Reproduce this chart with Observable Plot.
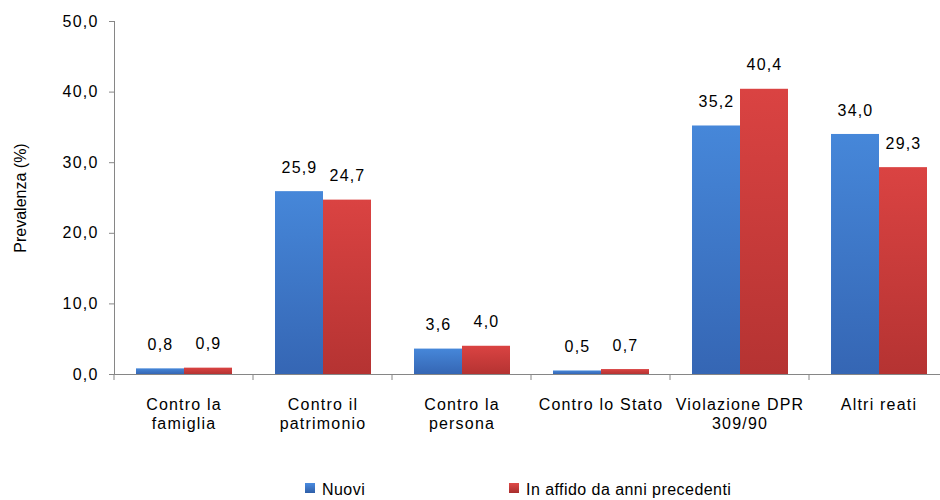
<!DOCTYPE html>
<html>
<head>
<meta charset="utf-8">
<script src="https://cdn.jsdelivr.net/npm/d3@7"></script>
<script src="https://cdn.jsdelivr.net/npm/@observablehq/plot@0.6"></script>
<style>
  body { margin: 0; background: #fff; font-family: "Liberation Sans", Arial, sans-serif; }
  #legend { position: relative; width: 940px; height: 20px; font-size: 16px; line-height: 20px; letter-spacing: 0.45px; color: #000; }
  .sw { position: absolute; top: 3px; width: 10px; height: 10px; }
  .lt { position: absolute; top: 0; white-space: nowrap; }
</style>
</head>
<body>
<div id="chart"></div>
<div id="legend"></div>
<script>
const categories = ["Contro la\nfamiglia", "Contro il\npatrimonio", "Contro la\npersona", "Contro lo Stato", "Violazione DPR\n309/90", "Altri reati"];
const nuovi = [0.8, 25.9, 3.6, 0.5, 35.2, 34.0];
const precedenti = [0.9, 24.7, 4.0, 0.7, 40.4, 29.3];
const series = ["Nuovi", "In affido da anni precedenti"];
const yTicks = [0, 10, 20, 30, 40, 50];
const seriesColors = ["url(#gBlue)", "url(#gRed)"];

const rows = categories.flatMap((c, i) => [
  {category: c, series: series[0], value: nuovi[i]},
  {category: c, series: series[1], value: precedenti[i]}
]);
const fmt = d => d.toFixed(1).replace(".", ",");

const plot = Plot.plot({
  width: 940,
  height: 480,
  marginLeft: 114,
  marginRight: -8,
  marginTop: 21,
  marginBottom: 106,
  style: {fontFamily: '"Liberation Sans", Arial, sans-serif', fontSize: "16px", color: "#000", letterSpacing: "1.2px", overflow: "visible", background: "#fff"},
  fx: {domain: categories, padding: 0, label: null},
  x: {domain: series, paddingInner: 0, paddingOuter: 0.42, axis: null},
  y: {domain: [0, 50], label: null},
  color: {domain: series, range: seriesColors},
  marks: [
    Plot.barY(rows, {fx: "category", x: "series", y: "value", fill: "series", inset: 0}),
    Plot.frame({anchor: "bottom", stroke: "#868686"}),
    Plot.frame({anchor: "left", stroke: "#868686", facetAnchor: "left"}),
    Plot.text(rows, {fx: "category", x: "series", y: "value", text: d => fmt(d.value), dy: -24, fill: "#000"}),
    Plot.axisY({ticks: yTicks, tickFormat: fmt, tickSize: 5, tickPadding: 11, stroke: "#868686", fill: "#000",
                label: "Prevalenza (%)", labelAnchor: "center", labelArrow: "none", labelOffset: 100}),
    Plot.axisFx({anchor: "bottom", tickSize: 0, tickPadding: 22, lineHeight: 1.2, label: null, fill: "#000"})
  ]
});

// gradients for bars
const svgEl = plot;
svgEl.insertAdjacentHTML("afterbegin",
  `<defs>
    <linearGradient id="gBlue" x1="0" y1="0" x2="0" y2="1">
      <stop offset="0" stop-color="#4687d9"/><stop offset="1" stop-color="#3566b4"/>
    </linearGradient>
    <linearGradient id="gRed" x1="0" y1="0" x2="0" y2="1">
      <stop offset="0" stop-color="#da4342"/><stop offset="1" stop-color="#b53332"/>
    </linearGradient>
  </defs>`);

// y label: no stretch
d3.select(svgEl).selectAll('[aria-label="y-axis label"] text').style("letter-spacing", "0px").style("font-size", "16px");

// category boundary ticks from the fx scale
const fxs = plot.scale("fx");
const ys = plot.scale("y");
const y0 = ys.apply(0);
const tg = d3.select(svgEl).append("g").attr("stroke", "#868686");
categories.forEach(c => {
  const x0 = fxs.apply(c);
  tg.append("line").attr("x1", x0).attr("x2", x0).attr("y1", y0).attr("y2", y0 + 6);
});

document.getElementById("chart").appendChild(plot);

// legend
const legend = document.getElementById("legend");
const legendX = [[305, 322], [509, 526]];
const swatchFill = ["linear-gradient(#4a8be0,#2f5fa8)", "linear-gradient(#df4a48,#a82e2d)"];
series.forEach((s, i) => {
  const sw = document.createElement("div");
  sw.className = "sw";
  sw.style.left = legendX[i][0] + "px";
  sw.style.background = swatchFill[i];
  legend.appendChild(sw);
  const t = document.createElement("div");
  t.className = "lt";
  t.style.left = legendX[i][1] + "px";
  t.textContent = s;
  legend.appendChild(t);
});
</script>
</body>
</html>
